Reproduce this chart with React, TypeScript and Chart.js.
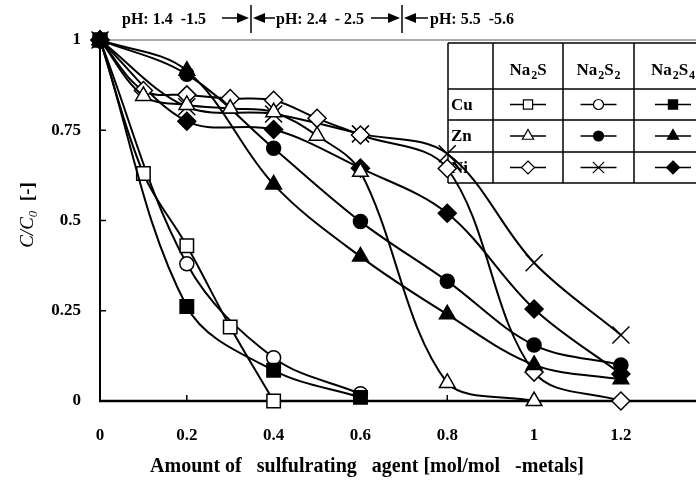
import React, { useEffect, useRef } from "react";
import { Chart, registerables } from "chart.js";
Chart.register(...registerables);

const SERIF = '"Liberation Serif", "Times New Roman", serif';

// Axis ticks
const xTickValues = [0, 0.2, 0.4, 0.6, 0.8, 1, 1.2];
const xTickLabels = ["0", "0.2", "0.4", "0.6", "0.8", "1", "1.2"];
const yTickValues = [0, 0.25, 0.5, 0.75, 1];
const yTickLabels = ["0", "0.25", "0.5", "0.75", "1"];

// Cu
const cuNa2S_x = [0, 0.1, 0.2, 0.3, 0.4];
const cuNa2S_y = [1, 0.63, 0.43, 0.205, 0.0];
const cuNa2S2_x = [0, 0.2, 0.4, 0.6];
const cuNa2S2_y = [1, 0.38, 0.12, 0.02];
const cuNa2S4_x = [0, 0.2, 0.4, 0.6];
const cuNa2S4_y = [1, 0.262, 0.085, 0.01];
// Zn
const znNa2S_x = [0, 0.1, 0.2, 0.3, 0.4, 0.5, 0.6, 0.8, 1.0];
const znNa2S_y = [1, 0.845, 0.82, 0.81, 0.8, 0.735, 0.635, 0.05, 0.0];
const znNa2S2_x = [0, 0.2, 0.4, 0.6, 0.8, 1.0, 1.2];
const znNa2S2_y = [1, 0.905, 0.7, 0.497, 0.332, 0.155, 0.1];
const znNa2S4_x = [0, 0.2, 0.4, 0.6, 0.8, 1.0, 1.2];
const znNa2S4_y = [1, 0.915, 0.6, 0.4, 0.24, 0.1, 0.06];
// Ni
const niNa2S_x = [0, 0.1, 0.2, 0.3, 0.4, 0.5, 0.6, 0.8, 1.0, 1.2];
const niNa2S_y = [1, 0.86, 0.848, 0.838, 0.833, 0.783, 0.737, 0.644, 0.08, 0.0];
const niNa2S2_x = [0, 0.2, 0.4, 0.6, 0.8, 1.0, 1.2];
const niNa2S2_y = [1, 0.815, 0.795, 0.74, 0.685, 0.383, 0.183];
const niNa2S4_x = [0, 0.2, 0.4, 0.6, 0.8, 1.0, 1.2];
const niNa2S4_y = [1, 0.775, 0.752, 0.645, 0.52, 0.255, 0.075];

const metals = ["Cu", "Zn", "Ni"];
const agents = [
  [{ t: "Na", s: false }, { t: "2", s: true }, { t: "S", s: false }],
  [{ t: "Na", s: false }, { t: "2", s: true }, { t: "S", s: false }, { t: "2", s: true }],
  [{ t: "Na", s: false }, { t: "2", s: true }, { t: "S", s: false }, { t: "4", s: true }],
];

const xTitle = "Amount of   sulfulrating   agent [mol/mol   -metals]";
const phLabels = ["pH: 1.4  -1.5", "pH: 2.4  - 2.5", "pH: 5.5  -5.6"];

type Series = { xs: number[]; ys: number[]; style: string; filled: boolean; r: number; row: number; col: number };
const series: Series[] = [
  { xs: cuNa2S4_x, ys: cuNa2S4_y, style: "rect", filled: true, r: 9.5, row: 0, col: 2 },
  { xs: cuNa2S_x, ys: cuNa2S_y, style: "rect", filled: false, r: 9.5, row: 0, col: 0 },
  { xs: cuNa2S2_x, ys: cuNa2S2_y, style: "circle", filled: false, r: 7, row: 0, col: 1 },
  { xs: znNa2S_x, ys: znNa2S_y, style: "triangle", filled: false, r: 9, row: 1, col: 0 },
  { xs: znNa2S2_x, ys: znNa2S2_y, style: "circle", filled: true, r: 7, row: 1, col: 1 },
  { xs: znNa2S4_x, ys: znNa2S4_y, style: "triangle", filled: true, r: 9, row: 1, col: 2 },
  { xs: niNa2S_x, ys: niNa2S_y, style: "rectRot", filled: false, r: 9, row: 2, col: 0 },
  { xs: niNa2S2_x, ys: niNa2S2_y, style: "crossRot", filled: false, r: 12, row: 2, col: 1 },
  { xs: niNa2S4_x, ys: niNa2S4_y, style: "rectRot", filled: true, r: 9, row: 2, col: 2 },
];

function drawMarker(ctx: CanvasRenderingContext2D, style: string, x: number, y: number, r: number, filled: boolean) {
  ctx.beginPath();
  if (style === "rect") {
    const s = Math.SQRT1_2 * r;
    ctx.rect(x - s, y - s, 2 * s, 2 * s);
  } else if (style === "circle") {
    ctx.arc(x, y, r, 0, Math.PI * 2);
  } else if (style === "triangle") {
    for (let i = 0; i < 3; i++) {
      const a = (i * 2 * Math.PI) / 3;
      const px = x + Math.sin(a) * r;
      const py = y - Math.cos(a) * r;
      if (i === 0) ctx.moveTo(px, py);
      else ctx.lineTo(px, py);
    }
    ctx.closePath();
  } else if (style === "rectRot") {
    ctx.moveTo(x, y - r);
    ctx.lineTo(x + r, y);
    ctx.lineTo(x, y + r);
    ctx.lineTo(x - r, y);
    ctx.closePath();
  } else if (style === "crossRot") {
    const o = Math.SQRT1_2 * r;
    ctx.moveTo(x - o, y - o);
    ctx.lineTo(x + o, y + o);
    ctx.moveTo(x - o, y + o);
    ctx.lineTo(x + o, y - o);
    ctx.stroke();
    return;
  }
  ctx.fillStyle = filled ? "#000" : "#fff";
  ctx.fill();
  ctx.stroke();
}

function drawRich(ctx: CanvasRenderingContext2D, parts: { t: string; s: boolean }[], cx: number, base: number, size: number, subSize: number, style: string) {
  const widths = parts.map((p) => {
    ctx.font = `${style} ${p.s ? subSize : size}px ${SERIF}`;
    return ctx.measureText(p.t).width + (p.s ? 1 : 0);
  });
  const total = widths.reduce((a, b) => a + b, 0);
  let x = cx - total / 2;
  ctx.textAlign = "left";
  ctx.textBaseline = "alphabetic";
  parts.forEach((p, i) => {
    ctx.font = `${style} ${p.s ? subSize : size}px ${SERIF}`;
    ctx.fillText(p.t, x + (p.s ? 1 : 0), base + (p.s ? 4 : 0));
    x += widths[i];
  });
}

function line(ctx: CanvasRenderingContext2D, x1: number, y1: number, x2: number, y2: number) {
  ctx.beginPath();
  ctx.moveTo(x1, y1);
  ctx.lineTo(x2, y2);
  ctx.stroke();
}

function arrow(ctx: CanvasRenderingContext2D, x1: number, x2: number, y: number) {
  const dir = Math.sign(x2 - x1);
  const head = 12;
  ctx.lineWidth = 1.5;
  line(ctx, x1, y, x2 - dir * head, y);
  ctx.beginPath();
  ctx.moveTo(x2, y);
  ctx.lineTo(x2 - dir * head, y - 5);
  ctx.lineTo(x2 - dir * head, y + 5);
  ctx.closePath();
  ctx.fill();
}

const framePlugin = {
  id: "frame",
  beforeDatasetsDraw(chart: any) {
    const ctx: CanvasRenderingContext2D = chart.ctx;
    const { left, top, bottom } = chart.chartArea;
    const xs = chart.scales.x;
    const ys = chart.scales.y;
    const W = chart.width;
    ctx.save();
    ctx.strokeStyle = "#000";
    ctx.fillStyle = "#000";

    // legend table
    const colX = [448, 493, 563, 634, 712];
    const rowY = [43, 89, 120, 152, 183];
    ctx.fillStyle = "#fff";
    ctx.fillRect(colX[0], rowY[0], colX[4] - colX[0], rowY[4] - rowY[0]);
    ctx.strokeStyle = "#000";
    ctx.lineWidth = 1.5;
    rowY.forEach((yy) => line(ctx, colX[0], yy, colX[4], yy));
    colX.forEach((xx) => line(ctx, xx, rowY[0], xx, rowY[4]));
    ctx.fillStyle = "#000";
    agents.forEach((parts, i) => {
      drawRich(ctx, parts, (colX[i + 1] + colX[i + 2]) / 2, 75, 17, 12, "bold");
    });
    ctx.textAlign = "left";
    ctx.textBaseline = "middle";
    ctx.font = `bold 17px ${SERIF}`;
    metals.forEach((m, i) => {
      ctx.fillText(m, 451, (rowY[i + 1] + rowY[i + 2]) / 2 + 1);
    });
    series.forEach((s) => {
      const cx = (colX[s.col + 1] + colX[s.col + 2]) / 2;
      const cy = (rowY[s.row + 1] + rowY[s.row + 2]) / 2;
      ctx.lineWidth = 1.5;
      ctx.strokeStyle = "#000";
      line(ctx, cx - 18, cy, cx + 18, cy);
      ctx.lineWidth = 1.2;
      drawMarker(ctx, s.style, cx, cy, s.style === "crossRot" ? 8 : s.style === "circle" ? 5 : 6.5, s.filled);
    });

    // frame
    ctx.strokeStyle = "#555";
    ctx.lineWidth = 1;
    line(ctx, left, top, W, top);
    ctx.strokeStyle = "#000";
    ctx.lineWidth = 2;
    line(ctx, left, top, left, bottom + 1);
    ctx.lineWidth = 2.5;
    line(ctx, left - 1, bottom, W, bottom);
    ctx.lineWidth = 1.5;
    xTickValues.forEach((v) => {
      if (v === 0) return;
      const px = xs.getPixelForValue(v);
      line(ctx, px, bottom, px, bottom - 6);
    });
    yTickValues.forEach((v) => {
      if (v === 0 || v === 1) return;
      const py = ys.getPixelForValue(v);
      line(ctx, left, py, left + 6, py);
    });
    ctx.restore();
  },
  afterDraw(chart: any) {
    const ctx: CanvasRenderingContext2D = chart.ctx;
    ctx.save();
    ctx.fillStyle = "#000";
    ctx.strokeStyle = "#000";

    // x title
    ctx.font = `bold 20px ${SERIF}`;
    ctx.textAlign = "center";
    ctx.textBaseline = "middle";
    ctx.fillText(xTitle, 367, 467);

    // y title
    ctx.save();
    ctx.translate(27, 215);
    ctx.rotate(-Math.PI / 2);
    const parts = [
      { t: "C/C", f: `italic 19px ${SERIF}`, dy: 0 },
      { t: "0", f: `italic 13px ${SERIF}`, dy: 4 },
      { t: "  [-]", f: `bold 19px ${SERIF}`, dy: 0 },
    ];
    const ws = parts.map((p) => {
      ctx.font = p.f;
      return ctx.measureText(p.t).width;
    });
    let x = -ws.reduce((a, b) => a + b, 0) / 2;
    ctx.textAlign = "left";
    ctx.textBaseline = "alphabetic";
    parts.forEach((p, i) => {
      ctx.font = p.f;
      ctx.fillText(p.t, x, 6 + p.dy);
      x += ws[i];
    });
    ctx.restore();

    // pH annotations
    ctx.font = `bold 16px ${SERIF}`;
    ctx.textAlign = "left";
    ctx.textBaseline = "alphabetic";
    ctx.fillText(phLabels[0], 122, 24);
    ctx.fillText(phLabels[1], 276, 24);
    ctx.fillText(phLabels[2], 430, 24);
    arrow(ctx, 222, 249, 18);
    arrow(ctx, 275, 253, 18);
    arrow(ctx, 371, 400, 18);
    arrow(ctx, 428, 404, 18);
    ctx.lineWidth = 1.5;
    line(ctx, 251, 5, 251, 33);
    line(ctx, 402, 5, 402, 33);
    ctx.restore();
  },
};

export default function App() {
  const ref = useRef<HTMLCanvasElement | null>(null);
  useEffect(() => {
    if (!ref.current) return;
    const datasets = series.map((s) => ({
      data: s.xs.map((xv, i) => ({ x: xv, y: s.ys[i] })),
      borderColor: "#000",
      borderWidth: 2,
      tension: 0.35,
      pointStyle: s.style,
      pointRadius: s.r,
      pointBorderWidth: 1.5,
      pointBorderColor: "#000",
      pointBackgroundColor: s.filled ? "#000" : "#fff",
      fill: false,
      clip: false as any,
    }));
    const chart = new Chart(ref.current, {
      type: "line",
      data: { datasets },
      options: {
        animation: false,
        responsive: false,
        maintainAspectRatio: false,
        devicePixelRatio: 1,
        layout: { autoPadding: false, padding: { top: 40, right: 0, left: 0, bottom: 0 } },
        plugins: { legend: { display: false }, tooltip: { enabled: false } },
        scales: {
          x: {
            type: "linear",
            min: 0,
            max: 1.373,
            grid: { display: false, drawTicks: false },
            border: { display: false },
            ticks: {
              color: "#000",
              font: { family: SERIF, size: 17, weight: "bold" },
              padding: 24,
              maxRotation: 0,
              autoSkip: false,
              callback: (_v: any, i: number) => xTickLabels[i],
            },
            afterBuildTicks: (a: any) => {
              a.ticks = xTickValues.map((v) => ({ value: v }));
            },
            afterFit: (s: any) => {
              s.height = 79;
            },
          },
          y: {
            type: "linear",
            min: 0,
            max: 1,
            grid: { display: false, drawTicks: false },
            border: { display: false },
            ticks: {
              color: "#000",
              font: { family: SERIF, size: 17, weight: "bold" },
              padding: 19,
              callback: (_v: any, i: number) => yTickLabels[i],
            },
            afterBuildTicks: (a: any) => {
              a.ticks = yTickValues.map((v) => ({ value: v }));
            },
            afterFit: (s: any) => {
              s.width = 100;
            },
          },
        },
      } as any,
      plugins: [framePlugin as any],
    });
    return () => chart.destroy();
  }, []);
  return (
    <div style={{ position: "fixed", left: 0, top: 0, width: 696, height: 480, background: "#fff" }}>
      <canvas ref={ref} width={696} height={480} style={{ display: "block", width: 696, height: 480 }} />
    </div>
  );
}
